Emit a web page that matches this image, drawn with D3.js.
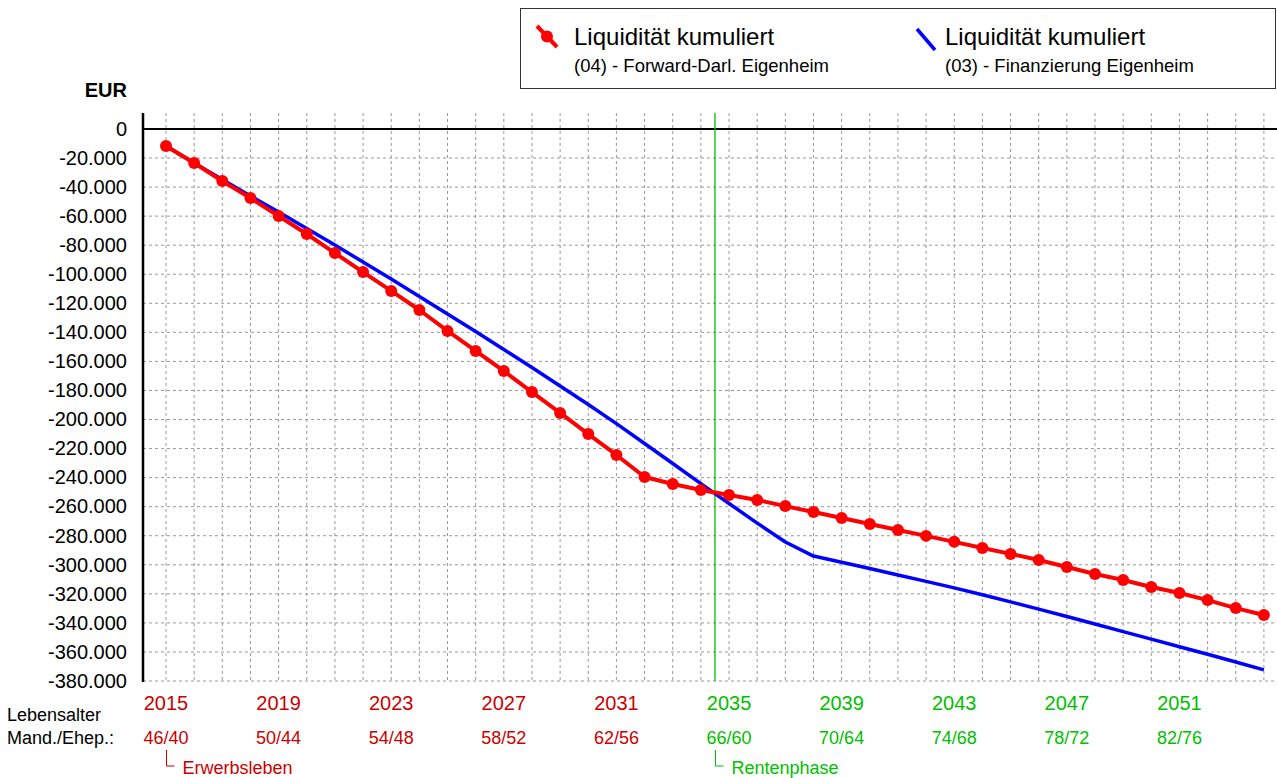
<!DOCTYPE html>
<html><head><meta charset="utf-8">
<script src="https://cdn.jsdelivr.net/npm/d3@7"></script>
<style>
body{margin:0;background:#fff;}
svg{display:block;font-family:"Liberation Sans",Arial,sans-serif;}
</style></head>
<body>
<svg id="chart" width="1277" height="778"></svg>
<script>
const years = d3.range(2015, 2055);
const forwardDarl = [-11700,-23400,-35800,-47500,-59900,-72300,-85400,-98500,-111500,-124600,
  -139000,-152800,-166600,-181100,-195500,-210000,-224400,-239600,-244400,-248500,
  -252000,-255400,-259600,-263700,-267800,-271900,-276000,-280100,-284200,-288400,
  -292500,-296700,-301500,-306300,-310500,-315300,-319400,-324300,-329800,-334600];
const finanzierung = [-11700,-23400,-34800,-46100,-57100,-68500,-79900,-91600,-103300,-115300,
  -127400,-139400,-151800,-164200,-176900,-189700,-202800,-216500,-230300,-244100,
  -257800,-271300,-284300,-294000,-298300,-302600,-307000,-311400,-315900,-320600,
  -325500,-330500,-335600,-340800,-346000,-351200,-356400,-361600,-366900,-372300];
const yTicks = d3.range(0, -380001, -20000);
const yearLabels = [2015,2019,2023,2027,2031,2035,2039,2043,2047,2051];
const ageLabels = ["46/40","50/44","54/48","58/52","62/56","66/60","70/64","74/68","78/72","82/76"];
const retirementStart = 2035;
const seriesNames = ["Liquidität kumuliert","Liquidität kumuliert"];
const seriesSubs = ["(04) - Forward-Darl. Eigenheim","(03) - Finanzierung Eigenheim"];

(function(){
const RED_TXT = "#cc0000", GREEN_TXT = "#00c000";
const svg = d3.select("#chart");
const pL = 143, pR = 1277, pT = 113, pB = 681;
const x = d3.scaleLinear().domain([2015, 2054]).range([166, 1263.9]);
const y = d3.scaleLinear().domain([-380000, 11000]).range([pB, pT]);

// grid
const g = svg.append("g");
g.selectAll("line.h").data(yTicks.filter(d => d !== 0)).join("line")
  .attr("x1", pL).attr("x2", pR).attr("y1", d => y(d)).attr("y2", d => y(d))
  .attr("stroke", "#999").attr("stroke-dasharray", "3,3").attr("stroke-width", 1);
g.selectAll("line.v").data(years).join("line")
  .attr("x1", d => x(d)).attr("x2", d => x(d)).attr("y1", pT).attr("y2", pB)
  .attr("stroke", "#999").attr("stroke-dasharray", "3,3").attr("stroke-width", 1);

// y axis labels
const fmt = d => d === 0 ? "0" : d3.format(",")(d).replace(/,/g, ".").replace("−", "-");
svg.append("g").selectAll("text").data(yTicks).join("text")
  .attr("x", 127).attr("y", d => y(d)).attr("dy", "0.34em")
  .attr("text-anchor", "end").attr("font-size", 20).attr("fill", "#000")
  .text(fmt);
svg.append("text").attr("x", 127).attr("y", 97).attr("text-anchor", "end")
  .attr("font-size", 20).attr("font-weight", "bold").text("EUR");

// axes lines
svg.append("line").attr("x1", pL).attr("x2", pR).attr("y1", y(0)).attr("y2", y(0))
  .attr("stroke", "#000").attr("stroke-width", 2);
svg.append("line").attr("x1", pL).attr("x2", pL).attr("y1", pT).attr("y2", pB + 1)
  .attr("stroke", "#000").attr("stroke-width", 2.5);

// retirement line
const xr = (x(retirementStart) + x(retirementStart - 1)) / 2;
svg.append("line").attr("x1", xr).attr("x2", xr).attr("y1", pT).attr("y2", pB)
  .attr("stroke", "#00c000").attr("stroke-width", 1.3);

// series
const line = d3.line().x((d, i) => x(years[i])).y(d => y(d));
svg.append("path").datum(finanzierung).attr("d", line).attr("fill", "none")
  .attr("stroke", "#0000ff").attr("stroke-width", 3.5).attr("stroke-linejoin", "round");
svg.append("path").datum(forwardDarl).attr("d", line).attr("fill", "none")
  .attr("stroke", "#ff0000").attr("stroke-width", 4).attr("stroke-linejoin", "round");
svg.append("g").selectAll("circle").data(forwardDarl).join("circle")
  .attr("cx", (d, i) => x(years[i])).attr("cy", d => y(d)).attr("r", 6).attr("fill", "#ff0000");

// x labels
const col = yr => yr >= retirementStart ? GREEN_TXT : RED_TXT;
svg.append("g").selectAll("text").data(yearLabels).join("text")
  .attr("x", d => x(d)).attr("y", 710).attr("text-anchor", "middle")
  .attr("font-size", 20).attr("fill", col).text(d => d);
svg.append("g").selectAll("text").data(ageLabels).join("text")
  .attr("x", (d, i) => x(yearLabels[i])).attr("y", 744).attr("text-anchor", "middle")
  .attr("font-size", 18).attr("fill", (d, i) => col(yearLabels[i])).text(d => d);
svg.append("text").attr("x", 7).attr("y", 721).attr("font-size", 18).text("Lebensalter");
svg.append("text").attr("x", 7).attr("y", 744).attr("font-size", 18).text("Mand./Ehep.:");

// phase brackets
function phase(xp, label, color) {
  svg.append("path").attr("d", `M${xp},750 V766 H${xp + 8}`).attr("fill", "none")
    .attr("stroke", color).attr("stroke-width", 1);
  svg.append("text").attr("x", xp + 16).attr("y", 774).attr("font-size", 18)
    .attr("fill", color).text(label);
}
phase(Math.round(x(2015)) + 0.5, "Erwerbsleben", RED_TXT);
phase(Math.round(xr) + 0.5, "Rentenphase", GREEN_TXT);

// legend
svg.append("rect").attr("x", 520.5).attr("y", 8.5).attr("width", 755).attr("height", 80)
  .attr("fill", "#fff").attr("stroke", "#333").attr("stroke-width", 1);
const lg = svg.append("g");
lg.append("line").attr("x1", 537).attr("y1", 26).attr("x2", 557).attr("y2", 47)
  .attr("stroke", "#ff0000").attr("stroke-width", 4);
lg.append("circle").attr("cx", 547).attr("cy", 36.5).attr("r", 6).attr("fill", "#ff0000");
lg.append("line").attr("x1", 917).attr("y1", 29).attr("x2", 935).attr("y2", 50)
  .attr("stroke", "#0000ff").attr("stroke-width", 3.5);
[[574, 0], [945, 1]].forEach(([lx, i]) => {
  lg.append("text").attr("x", lx).attr("y", 45).attr("font-size", 24).text(seriesNames[i]);
  lg.append("text").attr("x", lx).attr("y", 72).attr("font-size", 18.5).text(seriesSubs[i]);
});
})();
</script>
</body></html>
